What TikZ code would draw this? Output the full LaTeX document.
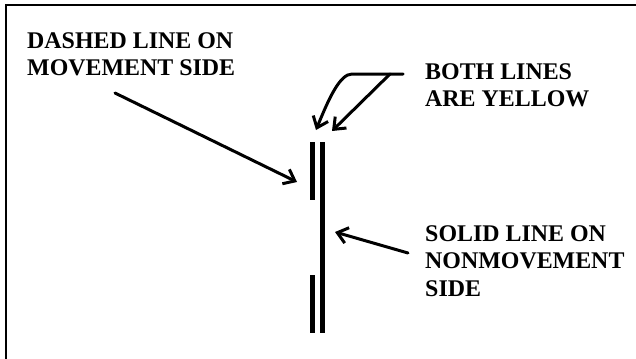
\documentclass[tikz,border=0pt]{standalone}
\usepackage{fontspec}
\setmainfont{Liberation Serif}
\usetikzlibrary{arrows.meta}
\begin{document}
\begin{tikzpicture}[x=1bp,y=-1bp,
  lbl/.style={anchor=north west, inner sep=0pt, align=left, font=\bfseries\fontsize{24}{28}\selectfont},
  stripe/.style={line width=5bp},
  frame/.style={line width=2bp},
  ptr/.style={line width=3bp, -{Straight Barb[length=10bp,width=16bp,line width=3bp]}, line cap=round, line join=round}]
\useasboundingbox (0,0) rectangle (636,358);
% frame (only top and left edges are visible)
\draw[frame] (6,370) -- (6,5) -- (650,5);
% pavement markings
\draw[stripe] (312,142) -- (312,200);
\draw[stripe] (312,275) -- (312,333);
\draw[stripe] (322,142) -- (322,333);
% labels
\node[lbl] (dashed) at (27,32) {DASHED LINE ON\\MOVEMENT SIDE};
\node[lbl] (both) at (425,63) {BOTH LINES\\ARE YELLOW};
\node[lbl] (solid) at (425,225) {SOLID LINE ON\\NONMOVEMENT\\SIDE};
% arrow ends
\coordinate (dTail) at (115,93);
\coordinate (dTip) at (297,182);
\coordinate (sTail) at (408,253);
\coordinate (sTip) at (335,232);
\coordinate (bTail) at (403,74);
\coordinate (bKnee) at (352,74);
\coordinate (bFork) at (390,74);
\coordinate (bTipL) at (316,130);
\coordinate (bTipR) at (332,131);
% connectors
\draw[ptr] (dTail) -- (dTip);
\draw[ptr] (sTail) -- (sTip);
\draw[ptr] (bTail) -- (bKnee) .. controls (340,74) and (329,98) .. (bTipL);
\draw[ptr] (bFork) -- (bTipR);
\end{tikzpicture}
\end{document}
